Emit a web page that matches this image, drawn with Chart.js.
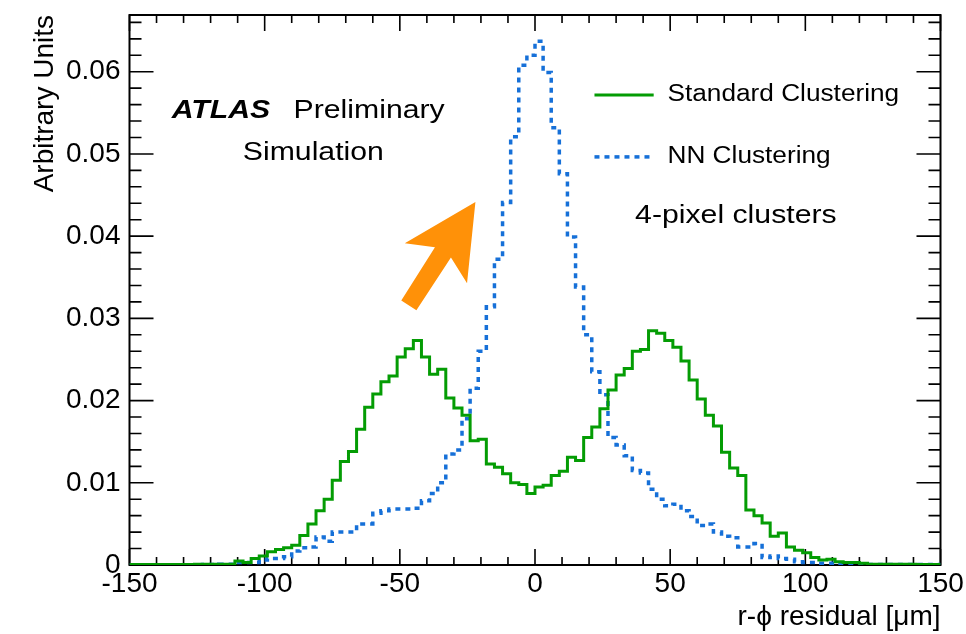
<!DOCTYPE html>
<html>
<head>
<meta charset="utf-8">
<title>r-phi residual, 4-pixel clusters</title>
<script src="https://cdn.jsdelivr.net/npm/chart.js@4.4.1/dist/chart.umd.min.js"></script>
<style>
  html, body { margin: 0; padding: 0; background: #fff; }
</style>
</head>
<body>
<canvas id="residualChart" width="966" height="634"></canvas>
<script>
// histogram binning: 100 bins of 3 um from -150 to 150
const xMin = -150;
const xMax = 150;
const binWidth = 3;
const xTickValues = [-150, -100, -50, 0, 50, 100, 150];
const yTickValues = [0, 0.01, 0.02, 0.03, 0.04, 0.05, 0.06];
const yMax = 0.0669;
const xMinorStep = 10;
const yMinorStep = 0.002;

const standardClustering = [
  0.00005, 0.00005, 0.00005, 0.00005, 0.00005, 0.00005, 0.00005, 0.00005, 0.0001, 0.0001,
  0.0001, 0.0001, 0.0001, 0.0005, 0.0003, 0.0008, 0.0011, 0.0016, 0.0019, 0.0021,
  0.0024, 0.0036, 0.0050, 0.0066, 0.0080, 0.0103, 0.0126, 0.0138, 0.0165, 0.0192,
  0.0208, 0.0223, 0.0230, 0.0253, 0.0263, 0.0273, 0.0253, 0.0232, 0.0238, 0.0203,
  0.0191, 0.0182, 0.0151, 0.0153, 0.0123, 0.0119, 0.0111, 0.0100, 0.0098, 0.0087,
  0.0095, 0.0097, 0.0109, 0.0114, 0.0131, 0.0127, 0.0155, 0.0168, 0.0190, 0.0213,
  0.0231, 0.0239, 0.0260, 0.0262, 0.0285, 0.0282, 0.0273, 0.0265, 0.0248, 0.0225,
  0.0202, 0.0182, 0.0169, 0.0137, 0.0118, 0.0109, 0.0067, 0.0060, 0.0051, 0.0035,
  0.0039, 0.0022, 0.0018, 0.0015, 0.0009, 0.0006, 0.0007, 0.0004, 0.0003, 0.0003,
  0.0002, 0.0001, 0.0001, 0.0001, 0.0001, 0.0001, 0.0001, 0.00005, 0.00005, 0.00005
];

const nnClustering = [
  0, 0, 0, 0, 0, 0, 0, 0, 0, 0.00005,
  0.00005, 0.0001, 0.0001, 0.0003, 0.0003, 0.0003, 0.0006, 0.0008, 0.0008, 0.0010,
  0.0017, 0.0021, 0.0022, 0.0034, 0.0029, 0.0040, 0.0040, 0.0040, 0.0050, 0.0050,
  0.0063, 0.0066, 0.0068, 0.0068, 0.0068, 0.0069, 0.0078, 0.0087, 0.0100, 0.0135,
  0.0140, 0.0178, 0.0215, 0.0260, 0.0314, 0.0372, 0.0441, 0.0521, 0.0608, 0.0620,
  0.0637, 0.0599, 0.0532, 0.0476, 0.0399, 0.0338, 0.0280, 0.0235, 0.0207, 0.0155,
  0.0146, 0.0133, 0.0115, 0.0112, 0.0092, 0.0080, 0.0072, 0.0074, 0.0066, 0.0059,
  0.0048, 0.0050, 0.0040, 0.0035, 0.0033, 0.0022, 0.0022, 0.0026, 0.0009, 0.0011,
  0.0008, 0.0007, 0.0004, 0.0003, 0.0003, 0.0002, 0.0002, 0.0001, 0.0001, 0.0001,
  0.0001, 0.00005, 0.00005, 0.00005, 0.00005, 0.00005, 0.00005, 0.00005, 0.00005, 0.00005
];

const FONT = '"Liberation Sans", Arial, Helvetica, sans-serif';
const textStretch = 1.14;

// left bin edges + closing point at the last edge, drawn with stepped lines
function toSteps(values) {
    const pts = values.map((v, i) => ({ x: xMin + i * binWidth, y: v }));
    pts.push({ x: xMin + values.length * binWidth, y: values[values.length - 1] });
    return pts;
}

function stretchedText(ctx, text, px, py, align) {
    const w = ctx.measureText(text).width * textStretch;
    let left = px;
    if (align === 'center') left = px - w / 2;
    if (align === 'right') left = px - w;
    ctx.save();
    ctx.translate(left, py);
    ctx.scale(textStretch, 1);
    ctx.textAlign = 'left';
    ctx.fillText(text, 0, 0);
    ctx.restore();
}

// ROOT style frame with inward ticks on all four sides
const frameAndTicks = {
    id: 'frameAndTicks',
    beforeDatasetsDraw(chart) {
        const { ctx, chartArea: a, scales: { x, y } } = chart;
        ctx.save();
        ctx.strokeStyle = '#000';
        ctx.lineWidth = 1.6;
        ctx.beginPath();
        for (let v = xMin; v <= xMax; v += xMinorStep) {
            const px = x.getPixelForValue(v);
            const len = xTickValues.includes(v) ? 16 : 8;
            ctx.moveTo(px, a.bottom); ctx.lineTo(px, a.bottom - len);
            ctx.moveTo(px, a.top); ctx.lineTo(px, a.top + len);
        }
        for (let k = 0; k * yMinorStep <= yMax; k++) {
            const py = y.getPixelForValue(k * yMinorStep);
            const len = k % 5 === 0 ? 24 : 12;
            ctx.moveTo(a.left, py); ctx.lineTo(a.left + len, py);
            ctx.moveTo(a.right, py); ctx.lineTo(a.right - len, py);
        }
        ctx.stroke();
        ctx.lineWidth = 2;
        ctx.strokeRect(a.left, a.top, a.right - a.left, a.bottom - a.top);
        ctx.restore();
    }
};

// ATLAS label, legend, annotation text and the orange arrow
const annotations = {
    id: 'annotations',
    afterDatasetsDraw(chart) {
        const { ctx, scales: { x, y } } = chart;
        ctx.save();
        ctx.fillStyle = '#000';
        ctx.textBaseline = 'alphabetic';

        ctx.font = 'bold italic 26.5px ' + FONT;
        stretchedText(ctx, 'ATLAS', x.getPixelForValue(-134.4), y.getPixelForValue(0.05434), 'left');
        ctx.font = '26.5px ' + FONT;
        stretchedText(ctx, 'Preliminary', x.getPixelForValue(-89.3), y.getPixelForValue(0.05434), 'left');
        stretchedText(ctx, 'Simulation', x.getPixelForValue(-82.0), y.getPixelForValue(0.04927), 'center');
        stretchedText(ctx, '4-pixel clusters', x.getPixelForValue(74.3), y.getPixelForValue(0.04164), 'center');

        // legend
        const legendY = [0.05718, 0.04964];
        ctx.font = '23px ' + FONT;
        ctx.textBaseline = 'middle';
        chart.data.datasets.forEach((ds, i) => {
            const py = y.getPixelForValue(legendY[i]);
            ctx.save();
            ctx.strokeStyle = ds.borderColor;
            ctx.lineWidth = ds.borderWidth;
            ctx.setLineDash(ds.borderDash || []);
            ctx.beginPath();
            ctx.moveTo(x.getPixelForValue(22.0), py);
            ctx.lineTo(x.getPixelForValue(43.9), py);
            ctx.stroke();
            ctx.restore();
            stretchedText(ctx, ds.label, x.getPixelForValue(49.0), py, 'left');
        });

        // arrow
        const tip = { x: x.getPixelForValue(-22.04), y: y.getPixelForValue(0.04416) };
        const tail = { x: x.getPixelForValue(-46.67), y: y.getPixelForValue(0.03157) };
        const dx = tip.x - tail.x, dy = tip.y - tail.y;
        const len = Math.hypot(dx, dy);
        const u = { x: dx / len, y: dy / len };
        const n = { x: -u.y, y: u.x };
        const pt = (back, side) => [tip.x - u.x * back + n.x * side, tip.y - u.y * back + n.y * side];
        const poly = [pt(0, 0), pt(73, 37), pt(60, 9.5), pt(len, 9), pt(len, -9), pt(60, -9.5), pt(73, -37)];
        ctx.fillStyle = '#ff9108';
        ctx.beginPath();
        poly.forEach((p, i) => (i ? ctx.lineTo(p[0], p[1]) : ctx.moveTo(p[0], p[1])));
        ctx.closePath();
        ctx.fill();
        ctx.restore();
    }
};

function generateResidualChart() {
    const ctx = document.getElementById('residualChart').getContext('2d');

    new Chart(ctx, {
        type: 'line',
        data: {
            datasets: [
                {
                    label: 'Standard Clustering',
                    data: toSteps(standardClustering),
                    borderColor: '#049c04',
                    borderWidth: 3,
                    stepped: 'before',
                    pointRadius: 0,
                    fill: false
                },
                {
                    label: 'NN Clustering',
                    data: toSteps(nnClustering),
                    borderColor: '#1670d8',
                    borderWidth: 3.5,
                    borderDash: [5, 5],
                    stepped: 'before',
                    pointRadius: 0,
                    fill: false
                }
            ]
        },
        options: {
            responsive: false,
            animation: false,
            devicePixelRatio: 1,
            layout: { padding: { top: 15, right: 25.5, left: 0, bottom: 0 } },
            plugins: {
                legend: { display: false },
                tooltip: { enabled: false }
            },
            scales: {
                x: {
                    type: 'linear',
                    min: xMin,
                    max: xMax,
                    grid: { display: false, drawTicks: false },
                    border: { display: false },
                    afterBuildTicks: s => { s.ticks = xTickValues.map(v => ({ value: v })); },
                    afterFit: s => { s.height = 69; },
                    ticks: {
                        color: '#000',
                        font: { family: FONT, size: 28 },
                        padding: 2,
                        maxRotation: 0,
                        autoSkip: false
                    },
                    title: {
                        display: true,
                        text: 'r-\u03d5 residual [\u03bcm]',
                        align: 'end',
                        color: '#000',
                        font: { family: FONT, size: 28 },
                        padding: { top: 0, bottom: 0 }
                    }
                },
                y: {
                    type: 'linear',
                    min: 0,
                    max: yMax,
                    grid: { display: false, drawTicks: false },
                    border: { display: false },
                    afterBuildTicks: s => { s.ticks = yTickValues.map(v => ({ value: v })); },
                    afterFit: s => {
                        s.width = 129.5;
                        s.paddingTop = 0;
                        s.paddingBottom = 0;
                    },
                    ticks: {
                        color: '#000',
                        font: { family: FONT, size: 28 },
                        padding: 9
                    },
                    title: {
                        display: true,
                        text: 'Arbitrary Units',
                        align: 'end',
                        color: '#000',
                        font: { family: FONT, size: 28 },
                        padding: { top: 28, bottom: 0 }
                    }
                }
            }
        },
        plugins: [frameAndTicks, annotations]
    });
}

document.addEventListener('DOMContentLoaded', () => generateResidualChart());
</script>
</body>
</html>
